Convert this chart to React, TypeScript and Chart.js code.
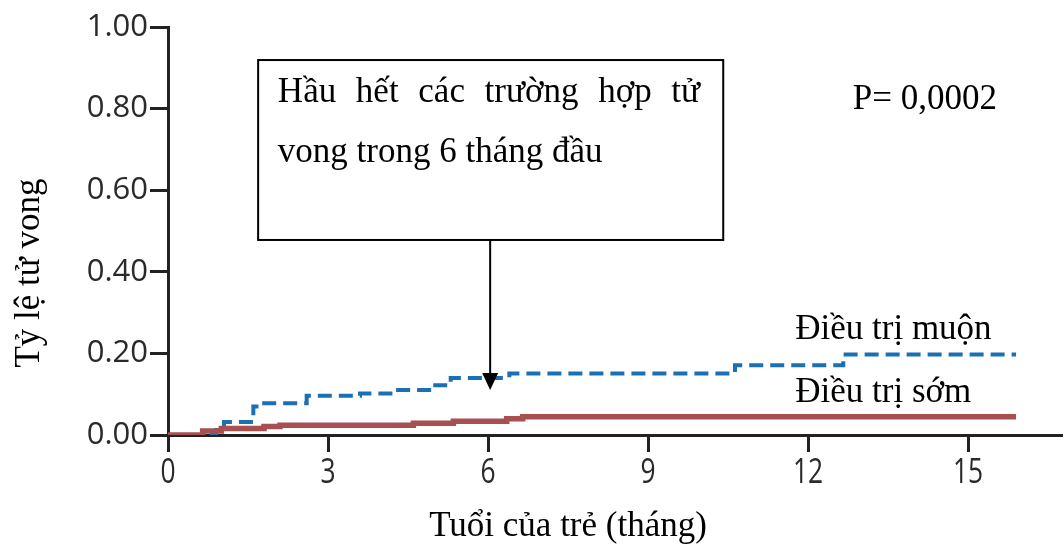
import React, { useEffect, useRef } from "react";
import { Chart, registerables } from "chart.js";

Chart.register(...registerables);

// ---- data ----
const lateMonths = [0, 0.9, 1.05, 1.6, 1.75, 2.6, 3.6, 4.25, 4.95, 5.3, 6.4, 10.63, 12.66, 15.9];
const lateRates = [0, 0.012, 0.032, 0.07, 0.078, 0.096, 0.102, 0.11, 0.122, 0.14, 0.151, 0.171, 0.197, 0.197];
const earlyMonths = [0, 0.65, 1.0, 1.8, 2.1, 4.6, 5.35, 6.35, 6.65, 15.9];
const earlyRates = [0, 0.01, 0.016, 0.021, 0.024, 0.029, 0.034, 0.04, 0.045, 0.045];
const xTickValues = [0, 3, 6, 9, 12, 15];
const yTickValues = [0, 0.2, 0.4, 0.6, 0.8, 1.0];
const lateLabel = "Điều trị muộn";
const earlyLabel = "Điều trị sớm";
const xTitle = "Tuổi của trẻ (tháng)";
const yTitle = "Tỷ lệ tử vong";
const pText = "P= 0,0002";
const noteLine1 = "Hầu hết các trường hợp tử";
const noteLine2 = "vong trong 6 tháng đầu";

const SERIF = '"Liberation Serif", "Times New Roman", serif';
const SANS = '"Open Sans", "Noto Sans", sans-serif';
const TICK_COLOR = "#2a2a2a";

const annotationPlugin = {
  id: "annotations",
  afterDraw(chart: any) {
    const { ctx } = chart;
    const xs = chart.scales.x;
    const ys = chart.scales.y;
    const px = (v: number) => xs.getPixelForValue(v);
    const py = (v: number) => ys.getPixelForValue(v);
    ctx.save();

    // x tick labels (condensed, tall)
    ctx.fillStyle = TICK_COLOR;
    ctx.font = `30px ${SANS}`;
    ctx.textAlign = "center";
    ctx.textBaseline = "top";
    xTickValues.forEach((v) => {
      ctx.save();
      ctx.translate(px(v), 456);
      ctx.scale(0.88, 1.15);
      ctx.fillText(String(v), 0, 0);
      ctx.restore();
    });

    ctx.fillStyle = "#000";
    ctx.textBaseline = "middle";

    // Line labels
    ctx.font = `35px ${SERIF}`;
    ctx.textAlign = "left";
    ctx.fillText(lateLabel, px(11.76), py(0.257));
    ctx.fillText(earlyLabel, px(11.76), py(0.103));

    // P value
    ctx.fillText(pText, px(12.84), py(0.821));

    // Box
    const bl = px(1.69), br = px(10.41), bt = py(0.919), bb = py(0.478);
    ctx.lineWidth = 2;
    ctx.strokeStyle = "#000";
    ctx.strokeRect(bl, bt, br - bl, bb - bt);

    // Box text (line 1 justified)
    const tl = px(2.06), tr = px(9.975);
    const words = noteLine1.split(" ");
    const widths = words.map((w) => ctx.measureText(w).width);
    const total = widths.reduce((a, b) => a + b, 0);
    const gap = (tr - tl - total) / (words.length - 1);
    let cx = tl;
    words.forEach((w, i) => {
      ctx.fillText(w, cx, py(0.838));
      cx += widths[i] + gap;
    });
    ctx.fillText(noteLine2, tl, py(0.691));

    // Arrow
    const ax = px(6.04);
    const tipY = py(0.11);
    ctx.beginPath();
    ctx.moveTo(ax, bb);
    ctx.lineTo(ax, tipY - 15);
    ctx.lineWidth = 2;
    ctx.stroke();
    ctx.beginPath();
    ctx.moveTo(ax - 8, tipY - 17);
    ctx.lineTo(ax + 8, tipY - 17);
    ctx.lineTo(ax, tipY);
    ctx.closePath();
    ctx.fill();

    // Axis titles
    ctx.textAlign = "center";
    ctx.fillText(xTitle, px(7.5), 527);
    ctx.save();
    ctx.translate(30, py(0.397));
    ctx.rotate(-Math.PI / 2);
    ctx.fillText(yTitle, 0, 0);
    ctx.restore();

    ctx.restore();
  },
};

export default function App() {
  const ref = useRef<HTMLCanvasElement | null>(null);
  useEffect(() => {
    if (!ref.current) return;
    const chart = new Chart(ref.current, {
      type: "line",
      data: {
        datasets: [
          {
            label: earlyLabel,
            data: earlyMonths.map((m, i) => ({ x: m, y: earlyRates[i] })),
            borderColor: "#a84f52",
            borderWidth: 5.5,
            stepped: "before",
            pointRadius: 0,
            fill: false,
            order: 0,
          },
          {
            label: lateLabel,
            data: lateMonths.map((m, i) => ({ x: m, y: lateRates[i] })),
            borderColor: "#1a70b2",
            borderWidth: 4,
            borderDash: [14, 7],
            stepped: "before",
            pointRadius: 0,
            fill: false,
            order: 1,
          },
        ],
      },
      options: {
        animation: false,
        responsive: false,
        layout: { padding: { left: 0, right: 0, top: 27, bottom: 0 } },
        plugins: { legend: { display: false }, tooltip: { enabled: false } },
        scales: {
          x: {
            type: "linear",
            min: 0,
            max: 16.78,
            afterBuildTicks: (s: any) => {
              s.ticks = xTickValues.map((v) => ({ value: v }));
            },
            afterFit: (s: any) => {
              s.height = 114;
            },
            grid: {
              display: true,
              drawOnChartArea: false,
              drawTicks: true,
              tickLength: 17,
              color: "#222",
              lineWidth: 3,
            },
            border: { display: true, color: "#222", width: 3 },
            ticks: { display: false },
          },
          y: {
            type: "linear",
            min: 0,
            max: 1,
            afterBuildTicks: (s: any) => {
              s.ticks = yTickValues.map((v) => ({ value: v }));
            },
            afterFit: (s: any) => {
              s.width = 168;
            },
            grid: {
              display: true,
              drawOnChartArea: false,
              drawTicks: true,
              tickLength: 18,
              color: "#222",
              lineWidth: 3,
            },
            border: { display: true, color: "#222", width: 3 },
            ticks: {
              color: TICK_COLOR,
              padding: 2,
              font: { family: SANS, size: 31 },
              callback: (v: any) => Number(v).toFixed(2),
            },
          },
        },
      },
      plugins: [annotationPlugin],
    } as any);
    return () => chart.destroy();
  }, []);
  return (
    <div style={{ position: "fixed", left: 0, top: 0, width: 1063, height: 549, background: "#fff" }}>
      <canvas ref={ref} width={1063} height={549} />
    </div>
  );
}
